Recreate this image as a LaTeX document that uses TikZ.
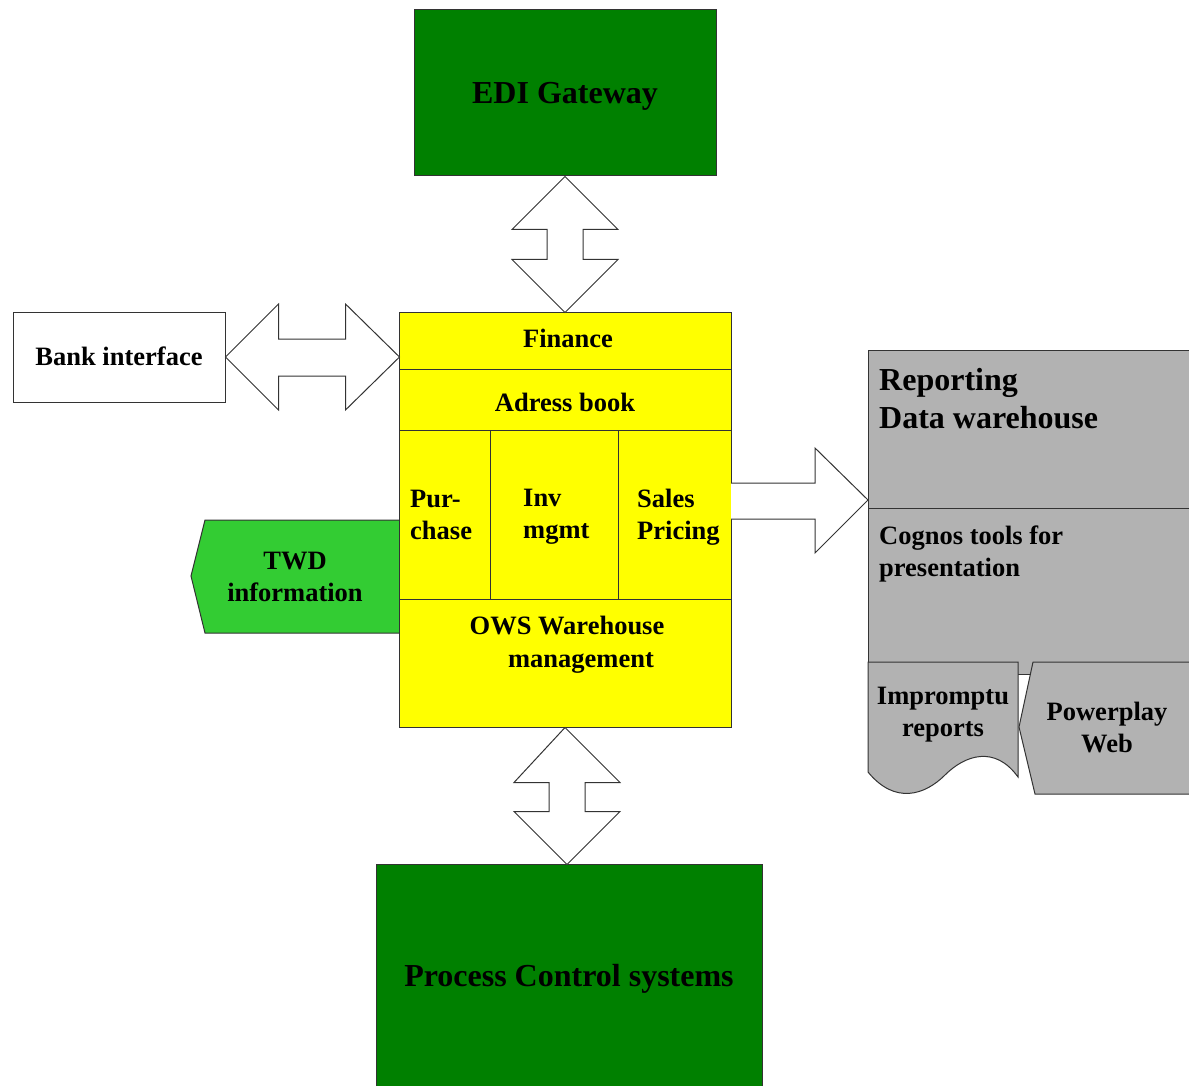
\documentclass[tikz,border=0pt]{standalone}
\usepackage{fontspec}
\setmainfont{Liberation Serif}
\definecolor{dkgreen}{HTML}{008000}
\definecolor{ltgreen}{HTML}{33CC33}
\definecolor{ylw}{HTML}{FFFF00}
\definecolor{gry}{HTML}{B2B2B2}
\begin{document}
\begin{tikzpicture}[x=1pt,y=-1pt,
  box/.style={draw=black!80, line width=1pt, inner sep=0pt, align=center,
    font=\bfseries\fontsize{26.5}{32}\selectfont},
  big/.style={font=\bfseries\fontsize{32}{38}\selectfont},
  lbl/.style={inner sep=0pt, align=left, font=\bfseries\fontsize{26.5}{32}\selectfont},
  clbl/.style={lbl, align=center},
  blk/.style={draw=black!80, fill=white, line width=1pt, line join=miter},
  shp/.style={draw=black!80, line width=1pt, line join=miter}]
\useasboundingbox (0,0) rectangle (1189,1086);
\clip (0,0) rectangle (1189,1086);

% EDI gateway
\node[box, fill=dkgreen, minimum width=302pt, minimum height=166pt] (edi) at (565,93) {};
\node[clbl, big] (edil) at (565,96) {EDI Gateway};

% TWD information
\path[shp, fill=ltgreen] (399,520) -- (205,520) -- (191,576) -- (205,633) -- (399,633);
\node[clbl] (twd) at (295,577) {TWD\\information};

% ERP block
\node[box, fill=ylw, minimum width=332pt, minimum height=57pt] (fin) at (565,340.5) {};
\node[box, fill=ylw, minimum width=332pt, minimum height=61pt] (adr) at (565,399.5) {};
\node[box, fill=ylw, minimum width=91pt, minimum height=169pt] (pur) at (444.5,514.5) {};
\node[box, fill=ylw, minimum width=128pt, minimum height=169pt] (inv) at (554,514.5) {};
\node[box, fill=ylw, minimum width=113pt, minimum height=169pt] (sal) at (674.5,514.5) {};
\node[box, fill=ylw, minimum width=332pt, minimum height=128pt] (ows) at (565,663) {};
\node[clbl] (finl) at (568,338.5) {Finance};
\node[clbl] (adrl) at (565,402.5) {Adress book};
\node[lbl, anchor=west] (purl) at (410,515) {Pur-\\chase};
\node[lbl, anchor=west] (invl) at (523,517) {Inv\\mgmt};
\node[lbl, anchor=west] (sall) at (637,517) {Sales\\Pricing};
\node[clbl] (owsa) at (567,626) {OWS Warehouse};
\node[clbl] (owsb) at (581,663) {management};

% Bank interface
\node[box, fill=white, minimum width=212pt, minimum height=90pt] (bank) at (119,357) {};
\node[clbl] (bankl) at (119,356) {Bank interface};

% Reporting panel
\node[box, fill=gry, minimum width=330pt, minimum height=158pt, anchor=north west] (rep) at (868,350) {};
\node[box, fill=gry, minimum width=330pt, minimum height=166pt, anchor=north west] (cog) at (868,508) {};
\node[lbl, big, anchor=west] (repl) at (879,399) {Reporting\\Data warehouse};
\node[lbl, anchor=west] (cogl) at (879,554) {Cognos tools for\\presentation};

% Impromptu reports (document shape)
\path[shp, fill=gry] (868,662) -- (1018,662) -- (1018,777)
  .. controls (995,745) and (965,755) .. (945,775)
  .. controls (925,795) and (895,805) .. (868,772) -- cycle;
\node[clbl] (imp) at (943,715) {Impromptu\\reports};

% Powerplay Web
\path[shp, fill=gry] (1033,662) -- (1200,662) -- (1200,794) -- (1035,794) -- (1019,727) -- cycle;
\node[clbl] (pp) at (1107,728) {Powerplay\\Web};

% Process control systems
\node[box, fill=dkgreen, minimum width=386pt, minimum height=224pt, anchor=north] (pcs) at (569,864) {};
\node[clbl, big] (pcsl) at (569,979) {Process Control systems};

% Block arrows
\draw[blk] (edi.south) -- ++(53,53) -- ++(-35,0) -- ++(0,30) -- ++(35,0) -- ++(-53,53)
  -- ++(-53,-53) -- ++(35,0) -- ++(0,-30) -- ++(-35,0) -- cycle;
\draw[blk] (bank.east) -- ++(53,-53) -- ++(0,35) -- ++(67,0) -- ++(0,-35) -- ++(54,53)
  -- ++(-54,53) -- ++(0,-34) -- ++(-67,0) -- ++(0,34) -- cycle;
\draw[blk] (ows.south) -- ++(55,55) -- ++(-35,0) -- ++(0,29) -- ++(35,0) -- ++(-53,53)
  -- ++(-53,-53) -- ++(35,0) -- ++(0,-29) -- ++(-35,0) -- cycle;
\coordinate (ra) at (731,501);
\draw[blk] (ra) ++(0,-18) -- ++(84,0) -- ++(0,-35) -- ++(53,52) -- ++(-53,53) -- ++(0,-34) -- ++(-84,0);
\end{tikzpicture}
\end{document}
